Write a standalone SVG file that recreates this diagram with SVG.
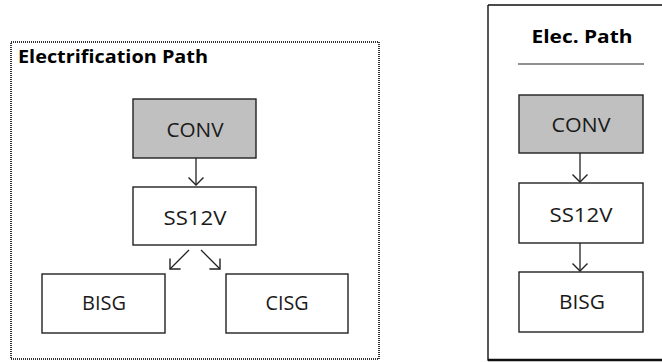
<svg xmlns="http://www.w3.org/2000/svg" width="662" height="362" viewBox="0 0 662 362">
<style>
.box{fill:#fff;stroke:#222;stroke-width:1.4}
.gray{fill:#c0c0c0}
.lbl{font-family:"Open Sans","Liberation Sans",Arial,sans-serif;font-size:20px;fill:#1a1a1a;text-anchor:middle}
.ttl{font-family:"Open Sans","Liberation Sans",Arial,sans-serif;font-weight:bold;font-size:18px;fill:#000}
.con{stroke:#222;stroke-width:1.3;fill:none}
</style>
<defs>
<marker id="ah" markerUnits="userSpaceOnUse" markerWidth="20" markerHeight="20" refX="10" refY="10" orient="auto" viewBox="0 0 20 20">
<path d="M2.5,2.5 L10,10 L2.5,17.5" fill="none" stroke="#222" stroke-width="1.4"/>
</marker>
</defs>
<rect width="662" height="362" fill="#fff"/>
<g id="frame-left">
<rect x="11" y="42" width="368" height="317" fill="none" stroke="#333" stroke-width="2" stroke-dasharray="1 1"/>
<text class="ttl" x="18" y="63" textLength="190" lengthAdjust="spacingAndGlyphs">Electrification Path</text>
</g>
<g id="frame-right">
<path d="M488,5 H670 M488,5 V360 H670" fill="none" stroke="#111" stroke-width="1.4"/>
<path d="M488,360 H670" stroke="#111" stroke-width="2.4"/>
<text class="ttl" x="582" y="43" text-anchor="middle" font-size="20" textLength="101" lengthAdjust="spacingAndGlyphs">Elec. Path</text>
<line x1="518" y1="64" x2="644" y2="64" stroke="#222" stroke-width="1.2"/>
</g>
<g id="conv-l"><rect class="box gray" x="133" y="99" width="123" height="59"/><text class="lbl" x="195" y="137" textLength="57" lengthAdjust="spacingAndGlyphs">CONV</text></g>
<g id="ss12v-l"><rect class="box" x="133" y="187" width="123" height="58"/><text class="lbl" x="195" y="225" textLength="63" lengthAdjust="spacingAndGlyphs">SS12V</text></g>
<g id="bisg-l"><rect class="box" x="42" y="274" width="123" height="59"/><text class="lbl" x="104" y="310" textLength="44" lengthAdjust="spacingAndGlyphs">BISG</text></g>
<g id="cisg-l"><rect class="box" x="226" y="274" width="122" height="59"/><text class="lbl" x="287" y="310" textLength="43" lengthAdjust="spacingAndGlyphs">CISG</text></g>
<g id="conv-r"><rect class="box gray" x="519" y="95" width="124" height="58"/><text class="lbl" x="581" y="132" textLength="59" lengthAdjust="spacingAndGlyphs">CONV</text></g>
<g id="ss12v-r"><rect class="box" x="519" y="183" width="124" height="60"/><text class="lbl" x="581" y="222" textLength="63" lengthAdjust="spacingAndGlyphs">SS12V</text></g>
<g id="bisg-r"><rect class="box" x="519" y="272" width="124" height="60"/><text class="lbl" x="582" y="309" textLength="46" lengthAdjust="spacingAndGlyphs">BISG</text></g>
<g id="connectors">
<line class="con" x1="196" y1="158" x2="196" y2="185" marker-end="url(#ah)"/>
<line class="con" x1="189" y1="250" x2="170" y2="269" marker-end="url(#ah)"/>
<line class="con" x1="201" y1="250" x2="220" y2="269" marker-end="url(#ah)"/>
<line class="con" x1="580" y1="153" x2="580" y2="182" marker-end="url(#ah)"/>
<line class="con" x1="580" y1="243" x2="580" y2="271" marker-end="url(#ah)"/>
</g>
</svg>
